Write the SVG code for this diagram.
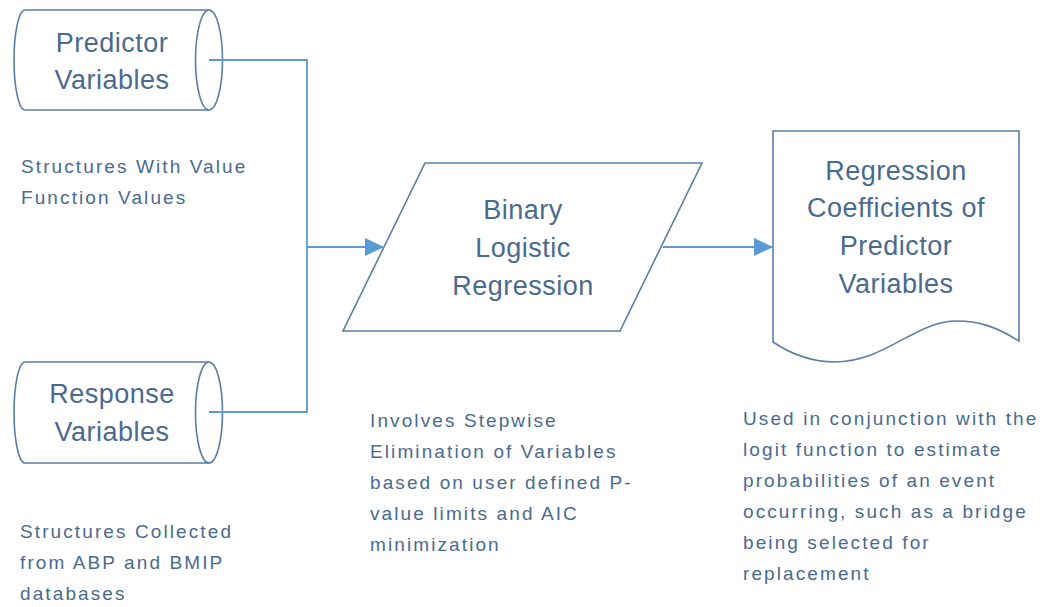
<svg xmlns="http://www.w3.org/2000/svg" width="1053" height="607" viewBox="0 0 1053 607">
<style>
.shape{fill:#ffffff;stroke:#5b7ea6;stroke-width:1.6}
.conn{fill:none;stroke:#5b9bd5;stroke-width:1.8}
.big{font-family:"Liberation Sans",Arial,sans-serif;font-size:27px;fill:#4a6a8e;text-anchor:middle;letter-spacing:0.5px}
.small{font-family:"Liberation Sans",Arial,sans-serif;font-size:19px;fill:#4a6a8e;letter-spacing:2.1px}
</style>
<defs>
<marker id="arrow" markerUnits="userSpaceOnUse" markerWidth="20" markerHeight="18" refX="19" refY="9" orient="auto">
<path d="M0,0 L19,9 L0,18 Z" fill="#5b9bd5"/>
</marker>
</defs>
<rect width="1053" height="607" fill="#ffffff"/>

<g id="predictor">
<path class="shape" d="M25,10 H209 A13.5,50 0 0 1 209,110 H25 A11,50 0 0 1 25,10 Z"/>
<path class="shape" d="M209,10 A13.5,50 0 0 0 209,110"/>
<text class="big" x="112" y="52">Predictor</text>
<text class="big" x="112" y="89">Variables</text>
</g>

<g id="predictor-note">
<text class="small" x="21" y="173">Structures With Value</text>
<text class="small" x="21" y="204">Function Values</text>
</g>

<g id="response">
<path class="shape" d="M25,362 H209 A13.5,50.5 0 0 1 209,463 H25 A11,50.5 0 0 1 25,362 Z"/>
<path class="shape" d="M209,362 A13.5,50.5 0 0 0 209,463"/>
<text class="big" x="112" y="403">Response</text>
<text class="big" x="112" y="441">Variables</text>
</g>

<g id="response-note">
<text class="small" x="20" y="538">Structures Collected</text>
<text class="small" x="20" y="569">from ABP and BMIP</text>
<text class="small" x="20" y="600">databases</text>
</g>

<g id="regression">
<path class="shape" d="M425,163 H702 L620,331 H343 Z"/>
<text class="big" x="523" y="219">Binary</text>
<text class="big" x="523" y="257">Logistic</text>
<text class="big" x="523" y="295">Regression</text>
</g>

<g id="regression-note">
<text class="small" x="370" y="427">Involves Stepwise</text>
<text class="small" x="370" y="458">Elimination of Variables</text>
<text class="small" x="370" y="489">based on user defined P-</text>
<text class="small" x="370" y="520">value limits and AIC</text>
<text class="small" x="370" y="551">minimization</text>
</g>

<g id="coefficients">
<path class="shape" d="M773,131 H1019 V341 C995,326 978,321 957,321 C915,321 885,362 835,362 C808,362 788,352 773,342 Z"/>
<text class="big" x="896" y="180">Regression</text>
<text class="big" x="896" y="217">Coefficients of</text>
<text class="big" x="896" y="255">Predictor</text>
<text class="big" x="896" y="293">Variables</text>
</g>

<g id="coefficients-note">
<text class="small" x="743" y="425">Used in conjunction with the</text>
<text class="small" x="743" y="456">logit function to estimate</text>
<text class="small" x="743" y="487">probabilities of an event</text>
<text class="small" x="743" y="518">occurring, such as a bridge</text>
<text class="small" x="743" y="549">being selected for</text>
<text class="small" x="743" y="580">replacement</text>
</g>

<g id="connectors">
<path class="conn" d="M209,60 H307 V412 H209"/>
<path class="conn" d="M307,247 H384" marker-end="url(#arrow)"/>
<path class="conn" d="M663,247 H773" marker-end="url(#arrow)"/>
</g>
</svg>
